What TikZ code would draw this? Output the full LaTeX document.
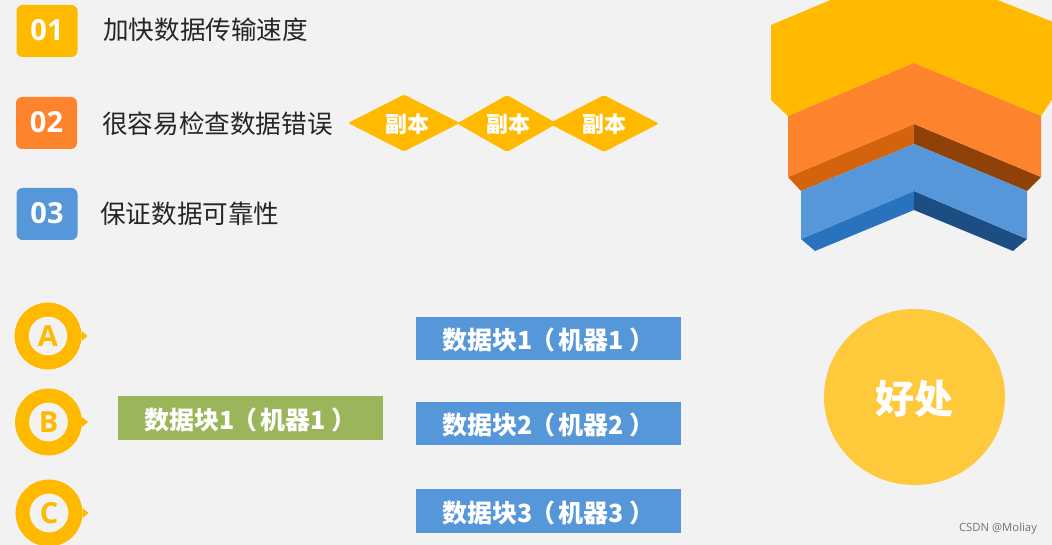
\documentclass[tikz,border=0pt]{standalone}
\usepackage{fontspec}
\setmainfont{Noto Sans CJK SC}
\newfontfamily\numfont{Open Sans}
\usetikzlibrary{shapes.geometric}

\definecolor{bgcol}{HTML}{F2F2F3}
\definecolor{goldcol}{HTML}{FFBA00}
\definecolor{orangecol}{HTML}{FD832D}
\definecolor{orangeleft}{HTML}{D3640D}
\definecolor{orangeright}{HTML}{8F4108}
\definecolor{bluecol}{HTML}{5597D9}
\definecolor{blueleft}{HTML}{2872BE}
\definecolor{blueright}{HTML}{1C4E83}
\definecolor{greencol}{HTML}{9BB65A}
\definecolor{suncol}{HTML}{FFC93C}

\newcommand{\blocklabel}[2]{数据块#1\kern-3pt（\kern3pt机器#2\kern6pt）}

\tikzset{
  numbox/.style={rounded corners=6pt,minimum width=61pt,minimum height=52pt,inner sep=0pt,text depth=2pt,
    text=white,font=\numfont\bfseries\fontsize{29}{34}\selectfont},
  itemtext/.style={anchor=west,inner sep=0pt,text=black!85,font=\fontsize{25.6}{30}\selectfont},
  copybox/.style={diamond,aspect=2,fill=goldcol,rounded corners=2pt,inner sep=0pt,text height=21pt,text depth=2pt,
    minimum width=112pt,minimum height=57pt,text=white,font=\bfseries\fontsize{22}{26}\selectfont},
  ringnode/.style={circle,draw=goldcol,fill=bgcol,line width=14pt,minimum size=53pt,inner sep=0pt,
    text=goldcol,font=\numfont\bfseries\fontsize{29}{32}\selectfont},
  blockbox/.style={minimum width=265pt,minimum height=43.5pt,inner sep=0pt,outer sep=0pt,text height=24.5pt,text depth=2.5pt,
    text=white,font=\bfseries\fontsize{25}{30}\selectfont}
}

\begin{document}
\begin{tikzpicture}[x=1pt,y=-1pt]
      \useasboundingbox (0,0) rectangle (1052,545);
      \clip (0,0) rectangle (1052,545);
      \fill[bgcol] (0,0) rectangle (1052,545);

      \draw (47,31) node[numbox,fill=goldcol] (numa) {01};
      \draw (46.5,123) node[numbox,fill=orangecol] (numb) {02};
      \draw (47,214) node[numbox,fill=bluecol] (numc) {03};
      \draw (103,30) node[itemtext] (speed) {加快数据传输速度};
      \draw (102,124) node[itemtext] (check) {很容易检查数据错误};
      \draw (100,214) node[itemtext] (safe) {保证数据可靠性};

      \draw (404,123) node[copybox] (copya) {\hspace{6pt}副本};
      \draw (507,123.5) node[copybox,minimum width=100pt] (copyb) {\hspace{2pt}副本};
      \draw (604,123.5) node[copybox,minimum width=110pt] (copyc) {副本};

      % chevrons
      \fill[goldcol] (771,25) -- (833,-1) -- (995,-1) -- (1053,22) -- (1053,98) -- (1041,116)
        -- (914,63) -- (788,116) -- (771,100) -- cycle;
      \fill[orangeleft] (788,177) -- (914,124) -- (914,144) -- (801,191) -- cycle;
      \fill[orangeright] (914,124) -- (1041,177) -- (1027,191) -- (914,144) -- cycle;
      \fill[orangecol] (788,116) -- (914,63) -- (1041,116) -- (1041,177) -- (914,124) -- (788,177) -- cycle;
      \fill[blueleft] (801,239) -- (914,191) -- (914,210) -- (815,251) -- cycle;
      \fill[blueright] (914,191) -- (1027,239) -- (1013,251) -- (914,210) -- cycle;
      \fill[bluecol] (801,191) -- (914,144) -- (1027,191) -- (1027,239) -- (914,191) -- (801,239) -- cycle;

      \draw (48,336) node[ringnode] (ringa) {A};
      \draw (48.5,422) node[ringnode] (ringb) {B};
      \draw (49,513) node[ringnode] (ringc) {C};
      \fill[goldcol] ([yshift=5pt]ringa.east) -- ++(6,5) -- ++(-6,5) -- cycle;
      \fill[goldcol] ([yshift=5pt]ringb.east) -- ++(6,5) -- ++(-6,5) -- cycle;
      \fill[goldcol] ([yshift=5pt]ringc.east) -- ++(6,5) -- ++(-6,5) -- cycle;

      \draw (250.5,418) node[blockbox,fill=greencol] (source) {\blocklabel{1}{1}};
      \draw (548.5,338.5) node[blockbox,fill=bluecol] (blocka) {\blocklabel{1}{1}};
      \draw (548.5,423.5) node[blockbox,fill=bluecol] (blockb) {\blocklabel{2}{2}};
      \draw (548.5,511) node[blockbox,fill=bluecol] (blockc) {\blocklabel{3}{3}};

      \draw (914.5,397) node[ellipse,fill=suncol,minimum width=181pt,minimum height=176pt,inner sep=0pt,text height=36pt,text depth=4pt,
        text=white,font=\bfseries\fontsize{39}{44}\selectfont] (good) {好处};

      \draw (998,529) node[text=black!55,inner sep=0pt,font=\numfont\fontsize{11.3}{13}\selectfont] (mark) {CSDN @Moliay};
    \end{tikzpicture}
\end{document}
